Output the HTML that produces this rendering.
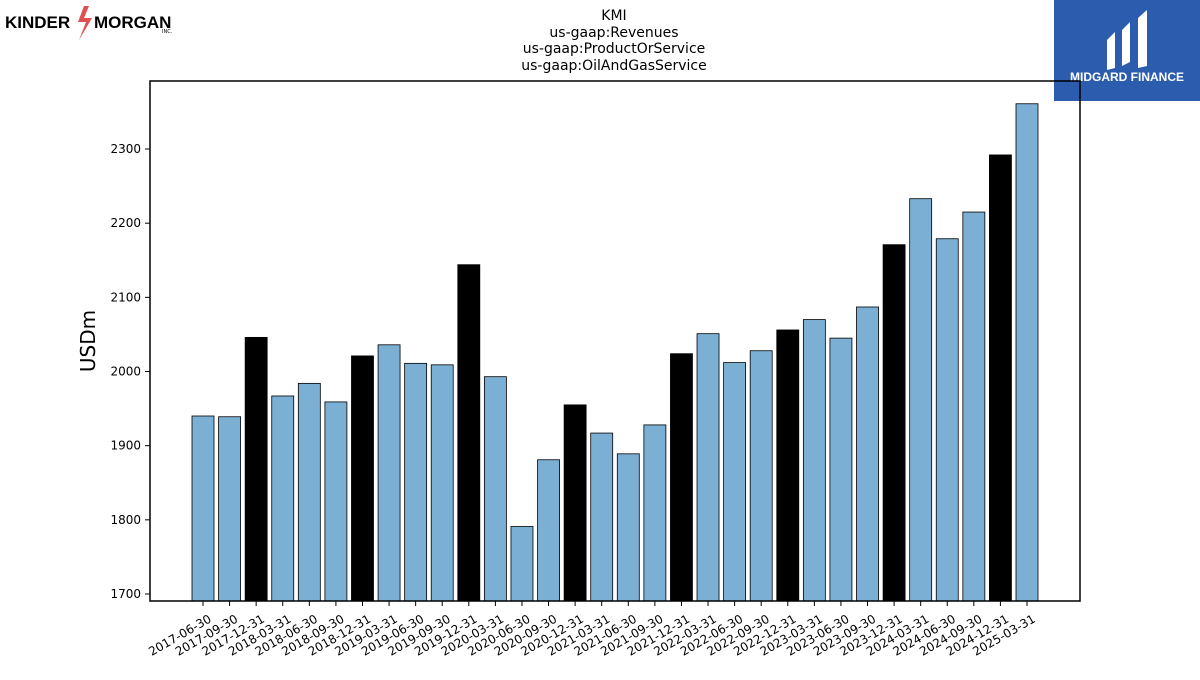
<!DOCTYPE html>
<html><head><meta charset="utf-8"><style>
body{margin:0;background:#fff;width:1200px;height:675px;overflow:hidden;font-family:"Liberation Sans",sans-serif}
svg text{font-family:"DejaVu Sans","Liberation Sans",sans-serif}
</style></head><body>
<svg id="chart" width="1200" height="675" viewBox="0 0 1200 675">
<g>
<text x="5" y="28" font-size="17" font-weight="bold" fill="#000" font-family="Liberation Sans" style="font-family:'Liberation Sans',sans-serif">KINDER</text>
<polygon points="84,6 78,22 86,22 79,40 92,18 84,18 89,6" fill="#e05050"/>
<text x="94" y="28" font-size="17" font-weight="bold" fill="#000" style="font-family:'Liberation Sans',sans-serif">MORGAN</text>
<text x="162" y="33" font-size="5" fill="#000">INC.</text>
</g>
<g>
<rect x="1054" y="0" width="146" height="101" fill="#2b5cae"/>
<path d="M1107,40 L1115,32 L1115,68 L1107,70 Z M1122,30 L1130,22 L1130,62 L1122,66 Z M1138,18 L1147,10 L1147,66 L1138,68 Z" fill="#fff"/>
<text x="1127" y="81" font-size="12" font-weight="bold" fill="#fff" text-anchor="middle" style="font-family:'Liberation Sans',sans-serif">MIDGARD FINANCE</text>
</g>
<g font-size="14" text-anchor="middle" fill="#000">
<text x="614" y="20">KMI</text>
<text x="614" y="37">us-gaap:Revenues</text>
<text x="614" y="53">us-gaap:ProductOrService</text>
<text x="614" y="70">us-gaap:OilAndGasService</text>
</g>
<text x="95" y="341" font-size="20" text-anchor="middle" transform="rotate(-90 95 341)">USDm</text>
<g id="bars"></g><g id="yticks"></g><g id="xticks"></g>
<rect x="150" y="81" width="930" height="520" fill="none" stroke="#000" stroke-width="1.5"/>
</svg>
<script>
const categories=["2017-06-30","2017-09-30","2017-12-31","2018-03-31","2018-06-30","2018-09-30","2018-12-31","2019-03-31","2019-06-30","2019-09-30","2019-12-31","2020-03-31","2020-06-30","2020-09-30","2020-12-31","2021-03-31","2021-06-30","2021-09-30","2021-12-31","2022-03-31","2022-06-30","2022-09-30","2022-12-31","2023-03-31","2023-06-30","2023-09-30","2023-12-31","2024-03-31","2024-06-30","2024-09-30","2024-12-31","2025-03-31"];
const values=[1940,1939,2046,1967,1984,1959,2021,2036,2011,2009,2144,1993,1791,1881,1955,1917,1889,1928,2024,2051,2012,2028,2056,2070,2045,2087,2171,2233,2179,2215,2292,2361];
const yTicks=[1700,1800,1900,2000,2100,2200,2300];
const NS="http://www.w3.org/2000/svg";
const y=v=>594-(v-1700)*(445/600);
const x=i=>203+i*(1027-203)/31;
const bw=22,bottom=601;
const bars=document.getElementById('bars'),yt=document.getElementById('yticks'),xt=document.getElementById('xticks');
values.forEach((v,i)=>{
 const r=document.createElementNS(NS,'rect');
 
 
 r.setAttribute('x',x(i)-bw/2);r.setAttribute('y',y(v));
 r.setAttribute('width',bw);r.setAttribute('height',bottom-y(v));
 r.setAttribute('fill',categories[i].endsWith('12-31')?'#000':'#7bafd4');
 r.setAttribute('stroke','#000');r.setAttribute('stroke-width','0.8');
 bars.appendChild(r);
 const t=document.createElementNS(NS,'line');
 
 
 t.setAttribute('x1',x(i));t.setAttribute('x2',x(i));t.setAttribute('y1',601);t.setAttribute('y2',606);t.setAttribute('stroke','#000');
 xt.appendChild(t);
 const l=document.createElementNS(NS,'text');
 
 
 l.setAttribute('font-size','12');l.setAttribute('text-anchor','end');
 l.setAttribute('transform','translate('+(x(i)+5)+',614) rotate(-30)');
 l.setAttribute('dy','0.7em');
 l.textContent=categories[i];xt.appendChild(l);
});
yTicks.forEach(v=>{
 const t=document.createElementNS(NS,'line');
 
 
 t.setAttribute('x1',145);t.setAttribute('x2',150);t.setAttribute('y1',y(v));t.setAttribute('y2',y(v));t.setAttribute('stroke','#000');
 yt.appendChild(t);
 const l=document.createElementNS(NS,'text');
 
 
 l.setAttribute('x',141);l.setAttribute('y',y(v)+4);l.setAttribute('font-size','12');l.setAttribute('text-anchor','end');
 l.textContent=v;yt.appendChild(l);
});
</script>
</body></html>
